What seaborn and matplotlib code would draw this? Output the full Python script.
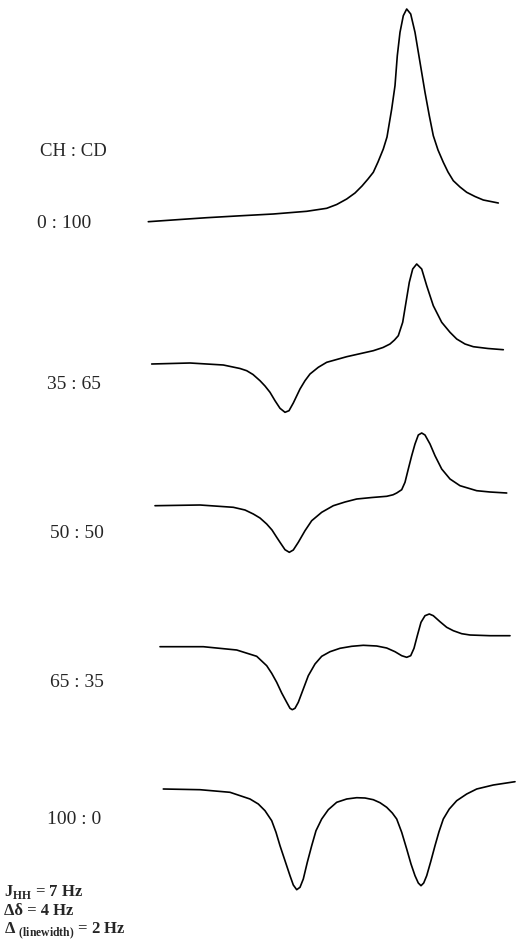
import matplotlib
matplotlib.use("Agg")
import matplotlib.pyplot as plt
import seaborn as sns
import pandas as pd

# Werte (Bildpixel: x nach rechts, y nach unten)
# CH : CD = 0 : 100
x_0_100 = [148.3, 180.0, 206.7, 240.0, 273.3, 306.7, 326.7, 336.7, 346.7, 355.0, 362.0,
           368.0, 373.3, 378.0, 383.3, 387.0, 391.7, 395.0, 397.3, 400.0, 403.3, 406.7,
           410.7, 415.0, 420.0, 425.0, 429.3, 433.3, 438.0, 443.3, 448.0, 453.3, 460.0,
           466.7, 475.0, 483.3, 498.3]
y_0_100 = [222.7, 220.5, 218.7, 216.8, 215.0, 212.3, 209.3, 205.5, 200.0, 194.0, 187.0,
           180.0, 173.3, 163.0, 150.0, 138.0, 110.0, 86.7, 56.7, 33.3, 16.7, 10.0,
           15.0, 33.3, 63.3, 93.3, 116.7, 136.7, 151.0, 163.3, 173.0, 181.7, 188.0,
           193.3, 197.5, 201.0, 204.0]

# 35 : 65
x_35_65 = [151.7, 190.0, 223.3, 240.0, 246.7, 253.0, 260.0, 265.0, 270.0, 275.0, 280.0,
           285.0, 289.0, 293.3, 300.0, 305.0, 310.0, 318.3, 326.7, 346.7, 360.0, 373.3,
           383.0, 390.0, 394.5, 398.3, 402.7, 406.0, 409.3, 412.7, 416.7, 421.7, 426.7,
           433.3, 441.7, 450.0, 456.7, 465.0, 473.3, 488.0, 503.3]
y_35_65 = [365.0, 364.0, 366.0, 369.5, 371.7, 375.5, 381.7, 387.0, 393.3, 401.7, 409.3,
           413.3, 411.7, 404.0, 390.0, 381.7, 375.0, 368.3, 363.3, 357.7, 354.7, 351.7,
           348.5, 345.0, 341.0, 336.7, 323.3, 303.3, 283.3, 270.0, 265.0, 270.0, 286.7,
           306.7, 323.3, 333.3, 340.0, 345.0, 347.7, 349.5, 350.7]

# 50 : 50
x_50_50 = [155.0, 200.0, 233.3, 245.0, 253.3, 260.0, 266.7, 272.0, 276.7, 280.0, 285.0,
           289.3, 293.3, 298.3, 305.0, 311.7, 321.7, 333.3, 345.0, 356.7, 372.0, 386.7,
           393.0, 396.7, 401.7, 405.0, 408.3, 411.7, 415.0, 418.3, 421.7, 425.0, 430.0,
           435.0, 441.7, 450.0, 460.0, 476.7, 490.0, 506.7]
y_50_50 = [506.7, 506.0, 508.3, 511.0, 515.0, 519.0, 525.0, 531.0, 538.3, 543.3, 550.7,
           553.3, 551.0, 543.3, 531.7, 521.7, 513.3, 506.7, 503.0, 500.0, 498.5, 497.3,
           495.8, 494.0, 490.7, 483.3, 470.0, 456.7, 445.0, 436.0, 434.0, 436.0, 445.0,
           456.7, 470.0, 480.0, 486.7, 491.7, 493.0, 494.0]

# 65 : 35
x_65_35 = [160.0, 203.3, 236.7, 256.7, 266.7, 271.7, 276.7, 281.7, 286.7, 290.0, 292.3,
           295.0, 298.3, 303.3, 308.3, 315.0, 321.7, 330.0, 340.0, 351.7, 363.3, 376.7,
           386.7, 395.0, 401.7, 406.7, 410.7, 414.0, 417.3, 421.0, 425.0, 429.3, 433.3,
           440.0, 446.7, 453.3, 461.7, 470.0, 490.0, 510.0]
y_65_35 = [647.7, 647.7, 651.0, 657.3, 666.7, 674.3, 683.3, 694.0, 703.3, 709.3, 710.7,
           709.3, 703.3, 690.0, 676.7, 665.0, 657.3, 652.7, 649.3, 647.3, 646.3, 647.0,
           649.0, 652.7, 656.7, 658.3, 656.7, 649.3, 636.7, 623.3, 616.7, 615.0, 616.7,
           622.7, 628.3, 631.7, 634.7, 636.0, 636.7, 636.7]

# 100 : 0
x_100_0 = [163.3, 200.0, 230.0, 250.0, 258.3, 265.0, 271.7, 276.0, 280.0, 285.0, 290.0,
           293.3, 296.7, 300.0, 303.3, 307.3, 311.7, 316.0, 321.7, 328.3, 336.7, 346.7,
           356.7, 365.0, 373.3, 380.0, 386.7, 392.3, 396.7, 401.7, 406.7, 411.0, 415.0,
           418.3, 421.0, 423.7, 426.7, 430.7, 435.0, 439.0, 443.3, 449.3, 456.7, 466.7,
           476.7, 493.3, 515.0]
y_100_0 = [790.0, 790.7, 793.3, 800.0, 805.0, 811.7, 821.7, 833.3, 846.7, 861.7, 876.7,
           886.0, 890.7, 888.3, 880.0, 863.3, 846.7, 831.7, 820.0, 810.7, 803.3, 800.0,
           798.7, 799.0, 800.7, 803.7, 808.3, 814.0, 820.0, 833.3, 850.0, 865.0, 876.7,
           884.0, 886.7, 884.0, 876.7, 862.7, 846.7, 832.7, 820.0, 810.0, 801.7, 795.0,
           790.0, 786.0, 782.7]

verhaeltnisse = ["0 : 100", "35 : 65", "50 : 50", "65 : 35", "100 : 0"]
spektren_x = [x_0_100, x_35_65, x_50_50, x_65_35, x_100_0]
spektren_y = [y_0_100, y_35_65, y_50_50, y_65_35, y_100_0]

# Lage der Beschriftungen
label_pos = [(37, 224), (47, 385), (50, 534), (50, 683), (47, 820)]

# Tabelle bauen
frames = []
for name, xs, ys in zip(verhaeltnisse, spektren_x, spektren_y):
    frames.append(pd.DataFrame({"x": xs, "y": ys, "ratio": name}))
df = pd.concat(frames, ignore_index=True)

sns.set_style("white")
plt.rcParams["font.family"] = ["Liberation Serif", "DejaVu Serif"]
plt.rcParams["mathtext.fontset"] = "custom"
plt.rcParams["mathtext.rm"] = "Liberation Serif"
plt.rcParams["mathtext.bf"] = "Liberation Serif:bold"

fig = plt.figure(figsize=(5.16, 9.53), dpi=100)
ax = fig.add_axes([0, 0, 1, 1])

for name in verhaeltnisse:
    sub = df[df["ratio"] == name]
    sns.lineplot(data=sub, x="x", y="y", sort=False, estimator=None,
                 color="black", linewidth=1.2, ax=ax)

ax.set_xlim(0, 516)
ax.set_ylim(953, 0)
ax.axis("off")

# Beschriftungen links
ax.text(40, 152, "CH : CD", fontsize=13.5, va="center", ha="left")
for name, (lx, ly) in zip(verhaeltnisse, label_pos):
    ax.text(lx, ly, name, fontsize=14, va="center", ha="left")

# Parameter unten links
ax.text(4, 892, r"J$_{\mathbf{HH}}$ = 7 Hz", fontsize=12, fontweight="bold", va="center")
ax.text(4, 911, "Δδ = 4 Hz", fontsize=12, fontweight="bold", va="center")
ax.text(4, 931, r"Δ $_{\mathbf{(linewidth)}}$ = 2 Hz", fontsize=12, fontweight="bold", va="center")

plt.savefig("out.png", dpi=100)
